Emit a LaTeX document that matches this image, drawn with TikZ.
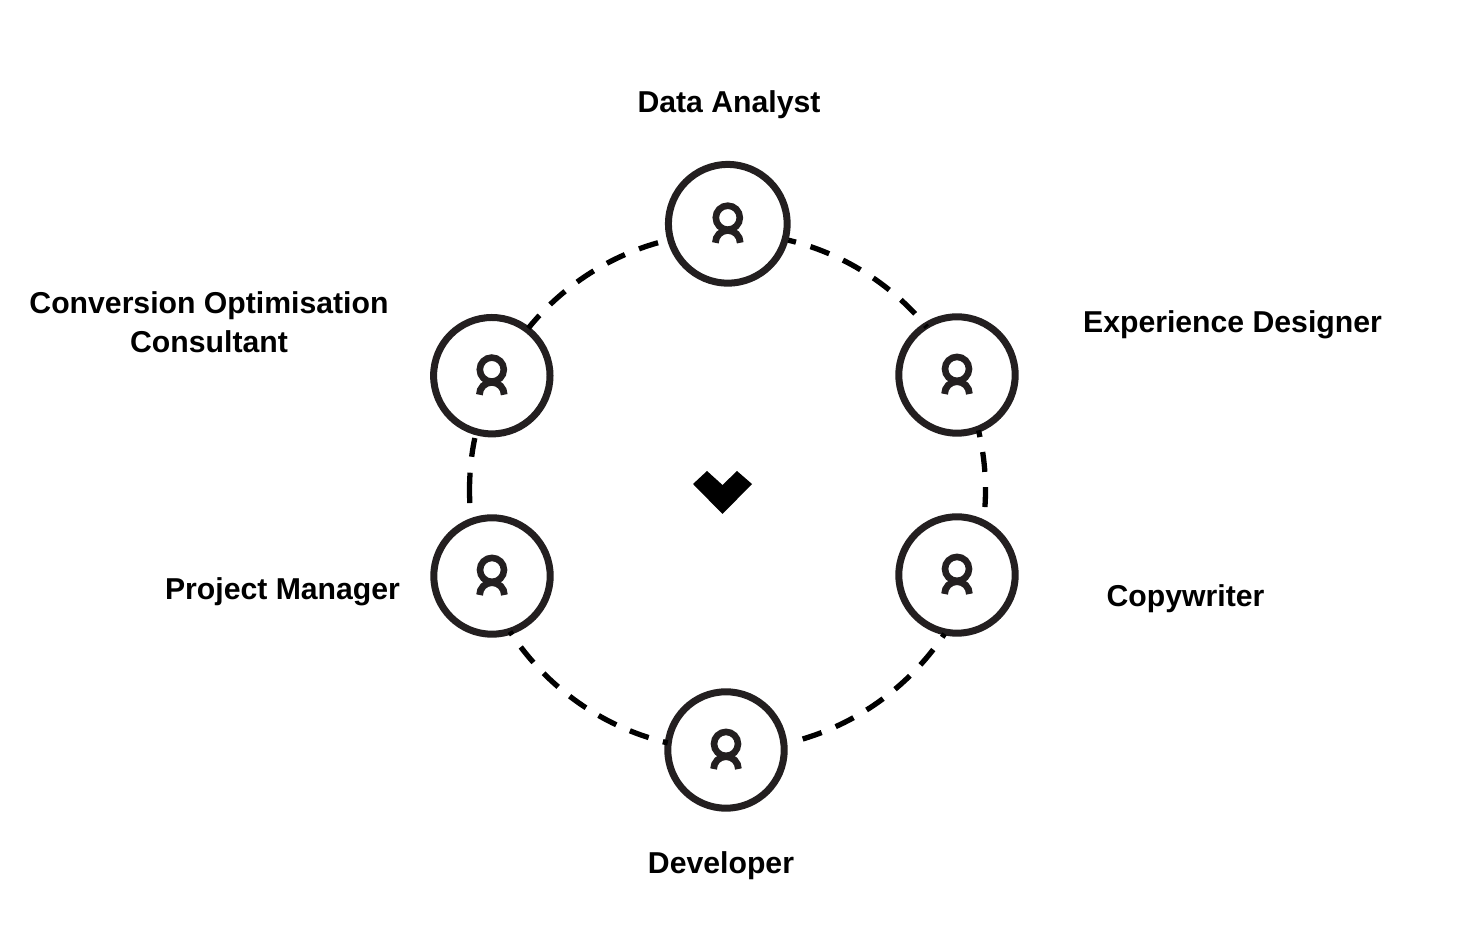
\documentclass[tikz,border=0pt]{standalone}
\usepackage{fontspec}
\setmainfont{Liberation Sans}
\definecolor{ink}{HTML}{231F20}
\tikzset{x=1pt,y=1pt,
  member/.style={circle,draw=ink,line width=7pt,inner sep=0pt,outer sep=0pt,fill=none,minimum size=116.4pt},
  role/.style={font=\bfseries\fontsize{30.2}{39}\selectfont,text=black,align=center,inner sep=0pt},
  link/.style={draw=black,line width=5.3pt,dash pattern=on 20pt off 15.2pt},
  icon/.pic={
    \draw[ink,line width=6.6pt] (0,6.1) circle (12);
    \draw[ink,line width=6.8pt] (-12.4,-19) arc (180:0:12.4);
  }
}
\begin{document}
\begin{tikzpicture}
\useasboundingbox (0,0) rectangle (1472,950);
\coordinate (hub) at (728,460);
\node[member,minimum size=118.7pt] (da) at (727.8,726.2) {};
\node[member] (ed) at (957,575) {};
\node[member] (cw) at (957,375) {};
\node[member] (dv) at (726,200) {};
\node[member] (pm) at (492,374) {};
\node[member] (co) at (491.8,574.3) {};
\pic at (da) {icon};
\pic at (ed) {icon};
\pic at (cw) {icon};
\pic at (dv) {icon};
\pic at (pm) {icon};
\pic at (co) {icon};
\fill[black] (693,466) -- (707,479) -- (722.5,465) -- (737,479) -- (752,466) -- (722.5,436) -- cycle;
\draw[link,dash phase=12pt] ([shift={(76.45:257)}]hub) arc (76.45:39.3:257);
\draw[link] ([shift={(-3.8:257.5)}]hub) arc (-3.8:13.4:257.5);
\draw[link] ([shift={(-73.3:260)}]hub) arc (-73.3:-33.6:260);
\draw[link,dash phase=16pt,dash pattern=on 20pt off 14.8pt] ([shift={(213:260)}]hub) arc (213:256.6:260);
\draw[link,dash pattern=on 19pt off 16pt on 31pt off 20pt] ([shift={(168.4:258.5)}]hub) arc (168.4:182.9:258.5);
\draw[link] ([shift={(105.8:257)}]hub) arc (105.8:141:257);
\node[role] (t1) at (729,845.5) {Data Analyst};
\node[role] (t2) at (1232.5,625.5) {Experience Designer};
\node[role] (t3) at (1185.5,351.5) {Copywriter};
\node[role] (t4) at (721,84) {Developer};
\node[role] (t5) at (282.5,358.5) {Project Manager};
\node[role] (t6) at (209,628) {Conversion Optimisation\\Consultant};
\end{tikzpicture}
\end{document}
